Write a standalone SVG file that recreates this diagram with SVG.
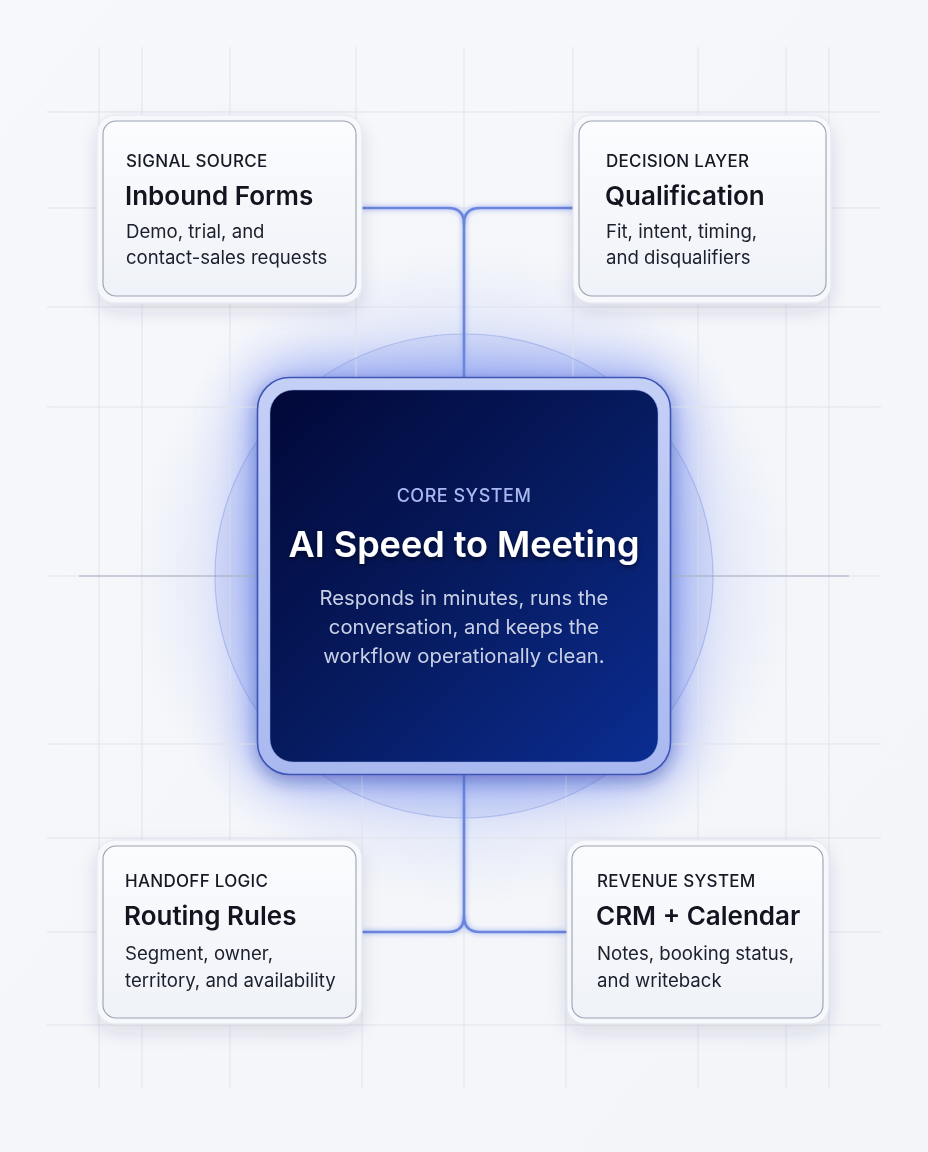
<svg xmlns="http://www.w3.org/2000/svg" width="928" height="1152" viewBox="0 0 928 1152">
  <defs>
    <linearGradient id="bg" x1="0" y1="0" x2="1" y2="1">
      <stop offset="0" stop-color="#f7f8fb"/>
      <stop offset="1" stop-color="#f3f5f9"/>
    </linearGradient>
    <linearGradient id="coreFill" x1="0" y1="0" x2="1" y2="1">
      <stop offset="0" stop-color="#020838"/>
      <stop offset="0.5" stop-color="#061a5e"/>
      <stop offset="1" stop-color="#0b2d92"/>
    </linearGradient>
    <linearGradient id="rimFill" x1="0" y1="0" x2="0" y2="1">
      <stop offset="0" stop-color="#c5d0f6"/>
      <stop offset="1" stop-color="#a9b9f0"/>
    </linearGradient>
    <linearGradient id="cardFill" x1="0" y1="0" x2="0" y2="1">
      <stop offset="0" stop-color="#fbfcfe"/>
      <stop offset="1" stop-color="#eff2f8"/>
    </linearGradient>
    <radialGradient id="wideGlow" cx="464" cy="576" r="330" gradientUnits="userSpaceOnUse">
      <stop offset="0" stop-color="#5573f0" stop-opacity="0.45"/>
      <stop offset="0.6" stop-color="#6d88f0" stop-opacity="0.22"/>
      <stop offset="1" stop-color="#8aa0f0" stop-opacity="0"/>
    </radialGradient>
    <filter id="glow" x="-60%" y="-60%" width="220%" height="220%">
      <feGaussianBlur stdDeviation="26"/>
    </filter>
    <filter id="cardShadow" x="-20%" y="-20%" width="140%" height="150%">
      <feDropShadow dx="0" dy="8" stdDeviation="9" flood-color="#27345e" flood-opacity="0.13"/>
    </filter>
    <filter id="coreShadow" x="-20%" y="-20%" width="140%" height="140%">
      <feDropShadow dx="0" dy="6" stdDeviation="8" flood-color="#1a2b8a" flood-opacity="0.35"/>
    </filter>
    <filter id="textShadow" x="-10%" y="-30%" width="120%" height="160%">
      <feDropShadow dx="0" dy="2" stdDeviation="2.5" flood-color="#000010" flood-opacity="0.6"/>
    </filter>
    <filter id="lineGlow" x="-20%" y="-20%" width="140%" height="140%">
      <feGaussianBlur stdDeviation="2"/>
    </filter>
  </defs>
  <style>
    .grid { stroke: #dfe3eb; stroke-width: 1; fill: none; }
    .axis { stroke: #a3abbd; stroke-width: 1.2; fill: none; }
    .conn { stroke: #6b85de; stroke-width: 2.6; fill: none; stroke-linecap: round; }
    .connGlow { stroke: #9fb2ef; stroke-width: 6; fill: none; opacity: 0.55; }
    .rim { fill: #f6f8fc; stroke: #e1e5ee; stroke-width: 1; }
    .card { fill: url(#cardFill); stroke: #9ba1b1; stroke-width: 1.1; }
    .eyebrow { font-family: Inter, "Liberation Sans", sans-serif; font-size: 17px; font-weight: 500; letter-spacing: 0.3px; fill: #161a26; }
    .title { font-family: Inter, "Liberation Sans", sans-serif; font-size: 26px; font-weight: 600; fill: #12151f; }
    .body { font-family: Inter, "Liberation Sans", sans-serif; font-size: 18.6px; font-weight: 400; fill: #1c1f2c; }
    .coreEyebrow { font-family: Inter, "Liberation Sans", sans-serif; font-size: 18px; font-weight: 500; letter-spacing: 0.5px; fill: #a9b8ee; }
    .coreTitle { font-family: Inter, "Liberation Sans", sans-serif; font-size: 36px; font-weight: 600; fill: #ffffff; }
    .coreBody { font-family: Inter, "Liberation Sans", sans-serif; font-size: 20.3px; font-weight: 400; fill: #c9d0e6; }
  </style>

  <rect x="0" y="0" width="928" height="1152" fill="url(#bg)"/>

  <!-- central glow -->
  <rect x="80" y="180" width="768" height="792" fill="url(#wideGlow)"/>
  <rect x="250" y="370" width="428" height="412" rx="40" fill="#3f60f0" opacity="0.5" filter="url(#glow)"/>

  <!-- grid -->
  <g id="grid">
    <path class="grid" d="M47,112 H881 M47,208 H881 M47,307 H881 M47,407 H881 M47,744 H881 M47,838 H881 M47,932 H881 M47,1025 H881"/>
    <path class="grid" d="M99,47 V1088 M142,47 V1088 M230,47 V1088 M464,47 V1088 M698,47 V1088 M786,47 V1088 M829,47 V1088"/>
    <path class="grid" d="M356,47 V576 M573,47 V576 M362,576 V1088 M566,576 V1088"/>
    <path class="grid" d="M47,576 H881"/>
    <path class="axis" d="M79,576 H849"/>
  </g>

  <!-- halo circle -->
  <ellipse id="halo" cx="464" cy="576" rx="249" ry="242" fill="#6a86ea" fill-opacity="0.12" stroke="#7f95e0" stroke-opacity="0.45" stroke-width="1.2"/>

  <!-- connectors -->
  <g id="connectors">
    <g filter="url(#lineGlow)">
      <path class="connGlow" d="M362,208 H448 Q464,208 464,224 V380"/>
      <path class="connGlow" d="M573,208 H480 Q464,208 464,224"/>
      <path class="connGlow" d="M464,772 V916 Q464,932 448,932 H362"/>
      <path class="connGlow" d="M464,916 Q464,932 480,932 H566"/>
    </g>
    <path class="conn" d="M362,208 H448 Q464,208 464,224 V380"/>
    <path class="conn" d="M573,208 H480 Q464,208 464,224"/>
    <path class="conn" d="M464,772 V916 Q464,932 448,932 H362"/>
    <path class="conn" d="M464,916 Q464,932 480,932 H566"/>
  </g>

  <!-- core node -->
  <g id="core">
    <rect x="257.5" y="377.5" width="413" height="397" rx="32" fill="url(#rimFill)" stroke="#3c55b6" stroke-width="1.6" filter="url(#coreShadow)"/>
    <rect x="270" y="390" width="388" height="372" rx="23" fill="url(#coreFill)" stroke="#8ea0e8" stroke-opacity="0.5" stroke-width="1"/>
    <text class="coreEyebrow" x="464" y="502" text-anchor="middle">CORE SYSTEM</text>
    <text class="coreTitle" x="464" y="557" text-anchor="middle" filter="url(#textShadow)">AI Speed to Meeting</text>
    <text class="coreBody" x="464" y="605" text-anchor="middle">Responds in minutes, runs the</text>
    <text class="coreBody" x="464" y="634" text-anchor="middle">conversation, and keeps the</text>
    <text class="coreBody" x="464" y="663" text-anchor="middle">workflow operationally clean.</text>
  </g>

  <!-- Inbound Forms -->
  <g id="inbound-forms">
    <rect class="rim" x="97" y="115" width="265" height="188" rx="18" filter="url(#cardShadow)"/>
    <rect class="card" x="103" y="121" width="253" height="175" rx="13"/>
    <text class="eyebrow" x="126" y="167">SIGNAL SOURCE</text>
    <text class="title" x="125" y="205">Inbound Forms</text>
    <text class="body" x="126" y="238">Demo, trial, and</text>
    <text class="body" x="126" y="264">contact-sales requests</text>
  </g>

  <!-- Qualification -->
  <g id="qualification">
    <rect class="rim" x="573" y="115" width="258" height="188" rx="18" filter="url(#cardShadow)"/>
    <rect class="card" x="579" y="121" width="247" height="175" rx="13"/>
    <text class="eyebrow" x="606" y="167">DECISION LAYER</text>
    <text class="title" x="605" y="205">Qualification</text>
    <text class="body" x="606" y="238">Fit, intent, timing,</text>
    <text class="body" x="606" y="264">and disqualifiers</text>
  </g>

  <!-- Routing Rules -->
  <g id="routing-rules">
    <rect class="rim" x="97" y="840" width="265" height="184" rx="18" filter="url(#cardShadow)"/>
    <rect class="card" x="103" y="846" width="253" height="172" rx="13"/>
    <text class="eyebrow" x="125" y="887">HANDOFF LOGIC</text>
    <text class="title" x="124" y="925">Routing Rules</text>
    <text class="body" x="125" y="960">Segment, owner,</text>
    <text class="body" x="125" y="987">territory, and availability</text>
  </g>

  <!-- CRM + Calendar -->
  <g id="crm-calendar">
    <rect class="rim" x="567" y="840" width="262" height="184" rx="18" filter="url(#cardShadow)"/>
    <rect class="card" x="572" y="846" width="251" height="172" rx="13"/>
    <text class="eyebrow" x="597" y="887">REVENUE SYSTEM</text>
    <text class="title" x="596" y="925">CRM + Calendar</text>
    <text class="body" x="597" y="960">Notes, booking status,</text>
    <text class="body" x="597" y="987">and writeback</text>
  </g>
</svg>
